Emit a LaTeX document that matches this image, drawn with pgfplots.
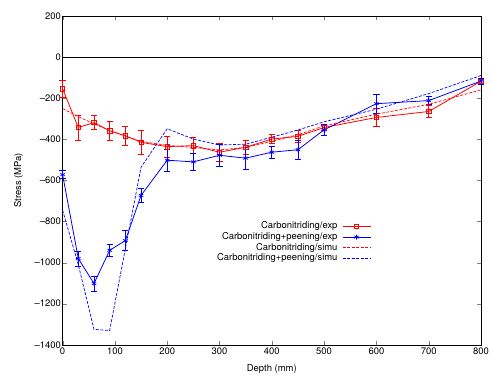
\documentclass[border=0pt]{standalone}
\usepackage{pgfplots}
\pgfplotsset{compat=1.18}
\usepackage{fontspec}
\setmainfont{TeX Gyre Heros}
\begin{document}
\fontsize{9.5}{10.5}\selectfont
\begin{tikzpicture}
\begin{axis}[
  scale only axis,
  width=421pt, height=331pt,
  clip=false,
  unbounded coords=jump,
  xmin=0, xmax=800, ymin=-1400, ymax=200,
  xtick={0,100,...,800},
  xticklabels={0,100,200,300,400,500,600,700,800},
  ytick={-1400,-1200,...,200},
  yticklabels={--1400,--1200,--1000,--800,--600,--400,--200,0,200},
  yticklabel style={xshift=1.5pt},
  xlabel={Depth (mm)},
  ylabel={Stress (MPa)},
  xlabel style={at={(axis description cs:0.5,-0.075)}, anchor=center},
  ylabel style={at={(axis description cs:-0.105,0.5)}, anchor=center},
]
\addplot[black] coordinates {(0,0) (800,0)};

% red error bars: x, y-e .. y+e, with caps
\addplot[red, line width=0.7pt] coordinates {
(0,-194) (0,-114) (0,nan) (-6,-194) (6,-194) (0,nan) (-6,-114) (6,-114) (0,nan)
(30,-403) (30,-283) (0,nan) (24,-403) (36,-403) (0,nan) (24,-283) (36,-283) (0,nan)
(60,-352) (60,-286) (0,nan) (54,-352) (66,-352) (0,nan) (54,-286) (66,-286) (0,nan)
(90,-406) (90,-312) (0,nan) (84,-406) (96,-406) (0,nan) (84,-312) (96,-312) (0,nan)
(120,-430) (120,-336) (0,nan) (114,-430) (126,-430) (0,nan) (114,-336) (126,-336) (0,nan)
(150,-475) (150,-355) (0,nan) (144,-475) (156,-475) (0,nan) (144,-355) (156,-355) (0,nan)
(200,-488) (200,-384) (0,nan) (194,-488) (206,-488) (0,nan) (194,-384) (206,-384) (0,nan)
(250,-469) (250,-393) (0,nan) (244,-469) (256,-469) (0,nan) (244,-393) (256,-393) (0,nan)
(300,-508) (300,-418) (0,nan) (294,-508) (306,-508) (0,nan) (294,-418) (306,-418) (0,nan)
(350,-474) (350,-404) (0,nan) (344,-474) (356,-474) (0,nan) (344,-404) (356,-404) (0,nan)
(400,-420) (400,-378) (0,nan) (394,-420) (406,-420) (0,nan) (394,-378) (406,-378) (0,nan)
(450,-416) (450,-356) (0,nan) (444,-416) (456,-416) (0,nan) (444,-356) (456,-356) (0,nan)
(500,-355) (500,-331) (0,nan) (494,-355) (506,-355) (0,nan) (494,-331) (506,-331) (0,nan)
(600,-339) (600,-249) (0,nan) (594,-339) (606,-339) (0,nan) (594,-249) (606,-249) (0,nan)
(700,-295) (700,-235) (0,nan) (694,-295) (706,-295) (0,nan) (694,-235) (706,-235) (0,nan)
(800,-130) (800,-106) (0,nan) (794,-130) (806,-130) (0,nan) (794,-106) (806,-106)
};
% blue error bars
\addplot[blue, line width=0.7pt] coordinates {
(0,-592) (0,-552) (0,nan) (-6,-592) (6,-592) (0,nan) (-6,-552) (6,-552) (0,nan)
(30,-1016) (30,-944) (0,nan) (24,-1016) (36,-1016) (0,nan) (24,-944) (36,-944) (0,nan)
(60,-1138) (60,-1066) (0,nan) (54,-1138) (66,-1138) (0,nan) (54,-1066) (66,-1066) (0,nan)
(90,-970) (90,-910) (0,nan) (84,-970) (96,-970) (0,nan) (84,-910) (96,-910) (0,nan)
(120,-941) (120,-845) (0,nan) (114,-941) (126,-941) (0,nan) (114,-845) (126,-845) (0,nan)
(150,-708) (150,-638) (0,nan) (144,-708) (156,-708) (0,nan) (144,-638) (156,-638) (0,nan)
(200,-554) (200,-450) (0,nan) (194,-554) (206,-554) (0,nan) (194,-450) (206,-450) (0,nan)
(250,-550) (250,-470) (0,nan) (244,-550) (256,-550) (0,nan) (244,-470) (256,-470) (0,nan)
(300,-530) (300,-426) (0,nan) (294,-530) (306,-530) (0,nan) (294,-426) (306,-426) (0,nan)
(350,-545) (350,-439) (0,nan) (344,-545) (356,-545) (0,nan) (344,-439) (356,-439) (0,nan)
(400,-493) (400,-433) (0,nan) (394,-493) (406,-493) (0,nan) (394,-433) (406,-433) (0,nan)
(450,-496) (450,-406) (0,nan) (444,-496) (456,-496) (0,nan) (444,-406) (456,-406) (0,nan)
(500,-379) (500,-329) (0,nan) (494,-379) (506,-379) (0,nan) (494,-329) (506,-329) (0,nan)
(600,-272) (600,-182) (0,nan) (594,-272) (606,-272) (0,nan) (594,-182) (606,-182) (0,nan)
(700,-232) (700,-192) (0,nan) (694,-232) (706,-232) (0,nan) (694,-192) (706,-192) (0,nan)
(800,-132) (800,-102) (0,nan) (794,-132) (806,-132) (0,nan) (794,-102) (806,-102)
};

\addplot[red, line width=0.8pt, mark=square, mark size=2.2pt, mark options={solid, line width=0.6pt}]
  coordinates {
(0,-154) (30,-343) (60,-319) (90,-359) (120,-383) (150,-415) (200,-436) (250,-431)
(300,-463) (350,-439) (400,-399) (450,-386) (500,-343) (600,-294) (700,-265) (800,-118)
};
\addplot[blue, line width=0.8pt, mark=asterisk, mark size=2.6pt, mark options={solid, line width=0.7pt}]
  coordinates {
(0,-572) (30,-980) (60,-1102) (90,-940) (120,-893) (150,-673) (200,-502) (250,-510)
(300,-478) (350,-492) (400,-463) (450,-451) (500,-354) (600,-227) (700,-212) (800,-117)
};
\addplot[red, line width=0.7pt, dash pattern=on 3pt off 1.5pt] coordinates {
(0,-251) (30,-290) (60,-325) (90,-357) (120,-385) (150,-410) (200,-430) (250,-440)
(300,-452) (350,-440) (400,-410) (450,-378) (500,-335) (600,-278) (700,-230) (800,-160)
};
\addplot[blue, line width=0.7pt, dash pattern=on 3pt off 1.5pt] coordinates {
(0,-745) (30,-1010) (60,-1325) (90,-1330) (120,-933) (150,-536) (200,-349) (250,-399)
(300,-428) (350,-424) (400,-390) (450,-355) (500,-315) (600,-254) (700,-178) (800,-90)
};

% legend (samples drawn through the axis, text right-aligned)
\addplot[red, line width=0.8pt, mark=square, mark size=2.2pt, mark repeat=2, mark phase=2,
  mark options={solid, line width=0.6pt, fill=white}] coordinates {(536,-824) (562,-824) (589,-824)};
\addplot[blue, line width=0.8pt, mark=asterisk, mark size=2.6pt, mark repeat=2, mark phase=2,
  mark options={solid, line width=0.7pt}] coordinates {(536,-876) (562,-876) (589,-876)};
\addplot[red, line width=0.7pt, dash pattern=on 3pt off 1.5pt] coordinates {(536,-927) (589,-927)};
\addplot[blue, line width=0.7pt, dash pattern=on 3pt off 1.5pt] coordinates {(536,-979) (589,-979)};
\node[anchor=east, inner sep=0pt] at (axis cs:526,-824) {Carbonitriding/exp};
\node[anchor=east, inner sep=0pt] at (axis cs:526,-876) {Carbonitriding+peening/exp};
\node[anchor=east, inner sep=0pt] at (axis cs:526,-927) {Carbonitriding/simu};
\node[anchor=east, inner sep=0pt] at (axis cs:526,-979) {Carbonitriding+peening/simu};
\end{axis}
\path (current axis.south west) ++(-63pt,-31pt) coordinate (bbA);
\path (current axis.north east) ++(8pt,16pt) coordinate (bbB);
\path (bbA) (bbB);
\end{tikzpicture}
\end{document}
